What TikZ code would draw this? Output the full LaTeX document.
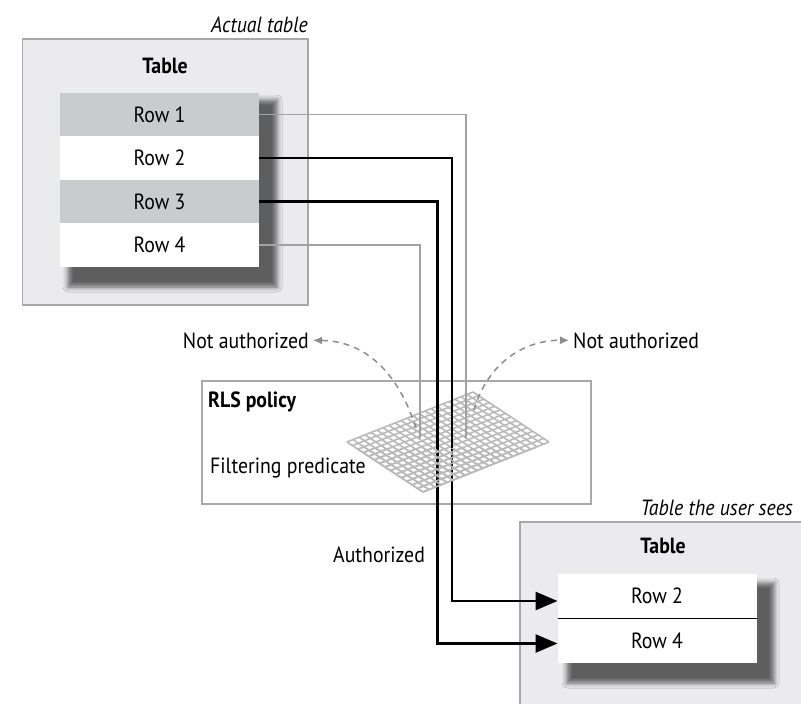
\documentclass[tikz,border=0pt]{standalone}
\usepackage{fontspec}
\setmainfont{PT Sans}[FakeStretch=0.9]
\usepackage{xcolor}
\usetikzlibrary{arrows.meta,positioning,shadows.blur}
\definecolor{panelfill}{HTML}{EBEBED}
\definecolor{panelline}{HTML}{A8A8AA}
\definecolor{rowgray}{HTML}{C9CBCC}
\definecolor{lineg}{HTML}{A2A2A2}
\definecolor{meshg}{HTML}{B9B9B9}
\definecolor{dashg}{HTML}{8C8C8C}
% the filtering mesh, drawn as a slanted grid
\newcommand{\meshgrid}{%
  \foreach \i in {0,...,14} \draw[mesh] (347+76*\i/14, 442+50*\i/14) -- ++(126,-50);
  \foreach \j in {0,...,21} \draw[mesh] (347+126*\j/21, 442-50*\j/21) -- ++(76,50);
}

\begin{document}
\begin{tikzpicture}[x=1pt, y=-1pt,
    every node/.style={font=\fontsize{22}{26}\selectfont, inner sep=4pt},
    title/.style={font=\fontsize{22}{26}\selectfont\bfseries},
    caption/.style={font=\fontsize{22}{26}\selectfont\itshape},
    panel/.style={draw=panelline, fill=panelfill, line width=1.3pt},
    shade/.style={blur shadow={shadow xshift=0pt, shadow yshift=0pt, shadow blur radius=5pt, shadow opacity=60}},
    row/.style={minimum width=199pt, minimum height=43.5pt, inner sep=0pt, outer sep=0pt},
    grayrow/.style={row, fill=rowgray},
    whiterow/.style={row, fill=white},
    mesh/.style={draw=meshg, line width=1.6pt},
    passed/.style={line width=2.8pt, -{Triangle[length=22pt, width=18pt, fill=black]}},
    rejected/.style={draw=lineg, line width=1.8pt},
    miss/.style={draw=dashg, line width=1.5pt, dash pattern=on 6pt off 5pt, -{Latex[length=9pt, width=8pt]}}
  ]
    \clip (0,0) rectangle (801,704);

    % actual table
    \draw[panel] (22.5,39) rectangle (308,305);
    \node[caption, anchor=base east] (actual) at (312,32) {Actual table};
    \node[title, anchor=base] (t1) at (165,73) {Table};
    \path[shade] (68,100) rectangle (277,287);
    \node[grayrow] (r1) at (159.5,114.5) {Row 1};
    \node[whiterow, below=0pt of r1] (r2) {Row 2};
    \node[grayrow, below=0pt of r2] (r3) {Row 3};
    \node[whiterow, below=0pt of r3] (r4) {Row 4};

    % table the user sees
    \draw[panel] (520,522) rectangle (830,730);
    \node[caption, anchor=base east] (seen) at (797,515) {Table the user sees};
    \node[title, anchor=base] (t2) at (663,553) {Table};
    \path[shade] (567,583) rectangle (774,683);
    \node[whiterow, minimum height=44.5pt] (s2) at (657,596) {Row 2};
    \node[whiterow, minimum height=44.5pt, below=0pt of s2] (s4) {Row 4};
    \draw[line width=1.2pt] (s2.south west) -- (s2.south east);

    % RLS policy
    \draw[draw=panelline, line width=1.3pt] (202,381) rectangle (591,504);
    \node[title, anchor=base west] (rls) at (204,407) {RLS policy};
    \node[anchor=base west] (pred) at (206,473) {Filtering predicate};
    \meshgrid

    % rows that pass
    \coordinate (c2) at (452,500);
    \coordinate (c3) at (437.5,500);
    \draw[passed] (r2.east) -| (c2) |- ([yshift=-5pt]s2.west);
    \draw[passed] (r3.east) -| (c3) |- ([yshift=-3pt]s4.west);
    \begin{scope}
      \clip (340,448) rectangle (560,500);
      \meshgrid
    \end{scope}

    % rows that stop at the predicate
    \coordinate (g1) at (466,438);
    \coordinate (g4) at (420,438);
    \draw[rejected] (r1.east) -| (g1);
    \draw[rejected] (r4.east) -| (g4);

    \node[anchor=base east] (nal) at (313,348) {Not authorized};
    \node[anchor=base west] (nar) at (569,348) {Not authorized};
    \coordinate (dl) at (416,428);
    \coordinate (dr) at (474,410);
    \draw[miss] (dl) .. controls (398,372) and (365,341) .. (nal.east);
    \draw[miss] (dr) .. controls (488,362) and (525,340) .. (nar.west);
    \node[anchor=base west] (auth) at (329,562) {Authorized};
\end{tikzpicture}
\end{document}
